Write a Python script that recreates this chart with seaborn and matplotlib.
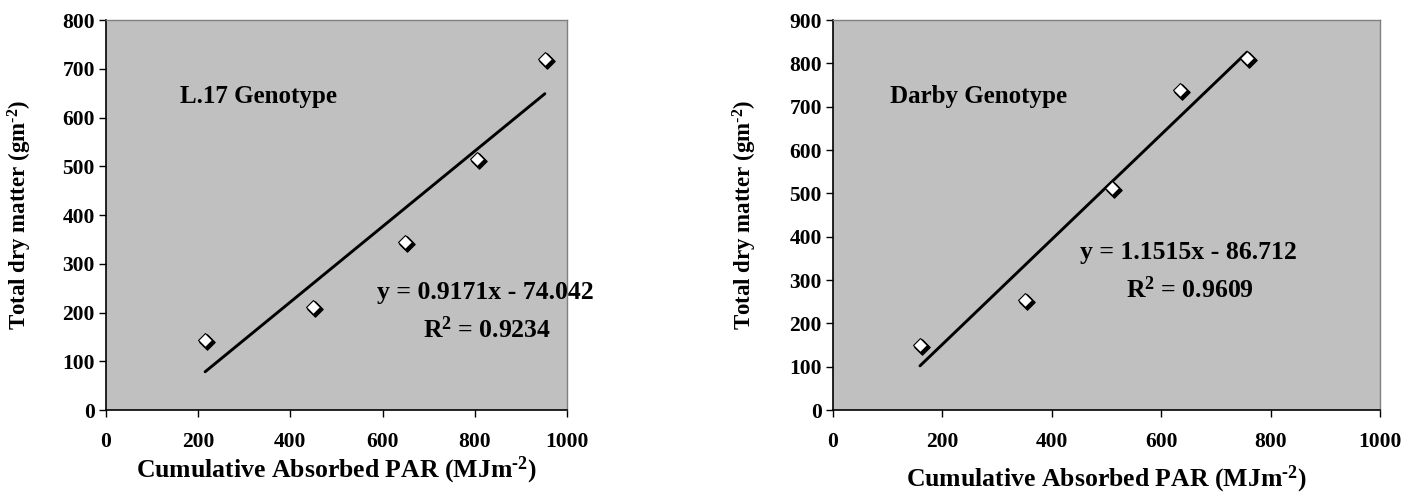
import matplotlib
matplotlib.use("Agg")
import matplotlib.pyplot as plt
import matplotlib.transforms as mtransforms
import seaborn as sns
import pandas as pd

# ---- data ----
par_l17 = [215, 449, 649, 805, 952]
dm_l17 = [144, 211, 345, 515, 721]
par_darby = [159, 351, 510, 634, 757]
dm_darby = [150, 254, 512, 738, 812]
titles = ["L.17 Genotype", "Darby Genotype"]
equations = ["y = 0.9171x - 74.042", "y = 1.1515x - 86.712"]
r2_values = ["0.9234", "0.9609"]
ylims = [800, 900]
xticks = [0, 200, 400, 600, 800, 1000]

sns.set_theme(style="white")
plt.rcParams['font.family'] = ['Liberation Serif', 'DejaVu Serif']
plt.rcParams['font.weight'] = 'bold'
plt.rcParams['text.color'] = 'black'
plt.rcParams['axes.labelcolor'] = 'black'
plt.rcParams['xtick.color'] = 'black'
plt.rcParams['ytick.color'] = 'black'
plt.rcParams['mathtext.fontset'] = 'custom'
plt.rcParams['mathtext.rm'] = 'Liberation Serif:bold'
plt.rcParams['mathtext.bf'] = 'Liberation Serif:bold'
plt.rcParams['mathtext.it'] = 'Liberation Serif:bold'

fig = plt.figure(figsize=(14.03, 4.98), dpi=100)
W, H = 1403, 498
ax_specs = [
    (106, 567, 20, 410),
    (833, 1380, 20, 410),
]
xs = [par_l17, par_darby]
series = [dm_l17, dm_darby]
title_pos = [(180, 97), (890, 97)]
eq_pos = [(485, 292), (1188, 252)]
r2_pos = [(487, 330), (1190, 290)]
xlab_y = [470, 479]
ylab_x = [20, 745]

for i, (x0, x1, y0, y1) in enumerate(ax_specs):
    ax = fig.add_axes([x0 / W, 1 - y1 / H, (x1 - x0) / W, (y1 - y0) / H])
    ax.set_facecolor('#C0C0C0')
    df = pd.DataFrame({"par": xs[i], "dm": series[i]})
    sns.regplot(data=df, x="par", y="dm", ax=ax, scatter=False, ci=None,
                line_kws=dict(color='black', lw=2.1), truncate=True)
    shadow = mtransforms.offset_copy(ax.transData, fig=fig, x=2.2, y=-2.2, units='dots')
    sns.scatterplot(data=df, x="par", y="dm", ax=ax, marker='D', s=62,
                    color='black', edgecolor='black', linewidth=0.8,
                    transform=shadow, zorder=4)
    sns.scatterplot(data=df, x="par", y="dm", ax=ax, marker='D', s=50,
                    color='white', edgecolor='black', linewidth=0.8, zorder=5)
    ax.set_xlim(0, 1000)
    ax.set_ylim(0, ylims[i])
    ax.set_xticks(xticks)
    ax.set_yticks(list(range(0, ylims[i] + 1, 100)))
    ax.tick_params(axis='both', which='both', direction='out', length=5, width=1,
                   color='black', labelsize=15.5, left=True, bottom=True)
    ax.tick_params(axis='x', pad=11)
    ax.tick_params(axis='y', pad=3)
    for lab in ax.get_xticklabels() + ax.get_yticklabels():
        lab.set_fontweight('bold')
    for side in ['left', 'bottom']:
        ax.spines[side].set_color('black')
        ax.spines[side].set_linewidth(1.2)
    for side in ['top', 'right']:
        ax.spines[side].set_color('#808080')
        ax.spines[side].set_linewidth(1.0)
    ax.set_xlabel("")
    ax.set_ylabel("")
    fig.text((x0 + x1) / 2 / W, 1 - xlab_y[i] / H,
             r"Cumulative Absorbed PAR (MJm$^{\text{-2}}$)",
             ha='center', va='center', fontsize=18.5, fontweight='bold')
    fig.text(ylab_x[i] / W, 1 - (y0 + y1) / 2 / H,
             r"Total dry matter (gm$^{\text{-2}}$)",
             ha='center', va='center', rotation=90, fontsize=16.5, fontweight='bold')
    fig.text(title_pos[i][0] / W, 1 - title_pos[i][1] / H, titles[i],
             ha='left', va='center', fontsize=18, fontweight='bold')
    fig.text(eq_pos[i][0] / W, 1 - eq_pos[i][1] / H, equations[i],
             ha='center', va='center', fontsize=18.5, fontweight='bold')
    fig.text(r2_pos[i][0] / W, 1 - r2_pos[i][1] / H,
             r"R$^{\text{2}}$ = " + r2_values[i],
             ha='center', va='center', fontsize=18.5, fontweight='bold')

fig.savefig("out.png", dpi=100, facecolor='white')
